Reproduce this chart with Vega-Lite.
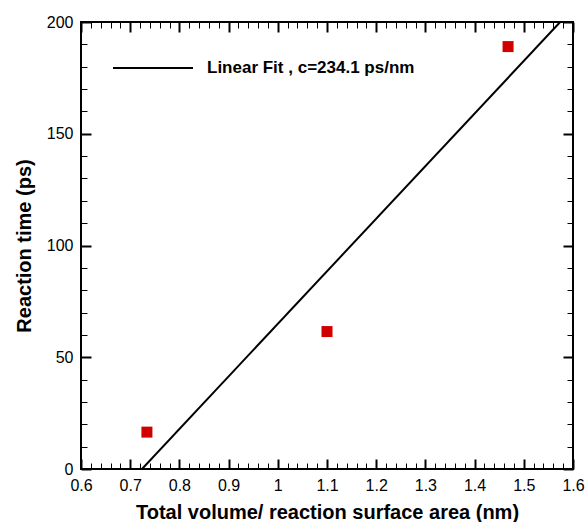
{
  "$schema": "https://vega.github.io/schema/vega-lite/v6.json",
  "width": 492,
  "height": 447,
  "autosize": {"type": "none"},
  "padding": {"left": 81, "top": 22, "right": 13, "bottom": 53},
  "config": {
    "view": {"stroke": "black", "strokeWidth": 2},
    "font": "Liberation Sans",
    "axis": {
      "grid": false,
      "domain": false,
      "tickColor": "black",
      "labelColor": "black",
      "labelFont": "Liberation Sans",
      "labelFontSize": 16,
      "titleFont": "Liberation Sans",
      "titleFontSize": 20,
      "titleFontWeight": "bold",
      "titleColor": "black"
    }
  },
  "layer": [
    {
      "data": {"values": [
        {"x": 0.734, "y": 16.5},
        {"x": 1.1, "y": 61.5},
        {"x": 1.468, "y": 189}
      ]},
      "mark": {"type": "square", "size": 121, "color": "#d00000", "opacity": 1},
      "encoding": {
        "x": {
          "field": "x", "type": "quantitative",
          "scale": {"domain": [0.6, 1.6], "nice": false, "zero": false},
          "axis": {
            "orient": "bottom",
            "title": "Total volume/ reaction surface area (nm)",
            "values": [0.6,0.62,0.64,0.66,0.68,0.7,0.72,0.74,0.76,0.78,0.8,0.82,0.84,0.86,0.88,0.9,0.92,0.94,0.96,0.98,1,1.02,1.04,1.06,1.08,1.1,1.12,1.14,1.16,1.18,1.2,1.22,1.24,1.26,1.28,1.3,1.32,1.34,1.36,1.38,1.4,1.42,1.44,1.46,1.48,1.5,1.52,1.54,1.56,1.58,1.6],
            "labelExpr": "abs(datum.value*10-round(datum.value*10))<0.000001 ? format(datum.value, '~g') : ''",
            "tickSize": {"condition": {"test": "abs(datum.value*10-round(datum.value*10))<0.000001", "value": -10}, "value": -6},
            "tickWidth": {"condition": {"test": "abs(datum.value*10-round(datum.value*10))<0.000001", "value": 2}, "value": 1},
            "labelPadding": 18,
            "labelFlush": false,
            "labelOverlap": false,
            "titlePadding": 5
          }
        },
        "y": {
          "field": "y", "type": "quantitative",
          "scale": {"domain": [0, 200], "nice": false},
          "axis": {
            "orient": "left",
            "title": "Reaction time (ps)",
            "values": [0,10,20,30,40,50,60,70,80,90,100,110,120,130,140,150,160,170,180,190,200],
            "labelExpr": "datum.value % 50 == 0 ? format(datum.value, 'd') : ''",
            "tickSize": {"condition": {"test": "datum.value % 50 == 0", "value": -10}, "value": -6},
            "tickWidth": {"condition": {"test": "datum.value % 50 == 0", "value": 2}, "value": 1},
            "labelPadding": 18,
            "labelFlush": false,
            "labelOverlap": false,
            "titlePadding": 12
          }
        }
      }
    },
    {
      "data": {"values": [
        {"x": 0.724, "y": 0, "series": "Linear Fit , c=234.1 ps/nm"},
        {"x": 1.574, "y": 200, "series": "Linear Fit , c=234.1 ps/nm"}
      ]},
      "mark": {"type": "line", "strokeWidth": 2, "clip": true},
      "encoding": {
        "x": {
          "field": "x", "type": "quantitative",
          "scale": {"domain": [0.6, 1.6], "nice": false, "zero": false},
          "axis": {
            "orient": "top",
            "title": null,
            "labels": false,
            "values": [0.6,0.62,0.64,0.66,0.68,0.7,0.72,0.74,0.76,0.78,0.8,0.82,0.84,0.86,0.88,0.9,0.92,0.94,0.96,0.98,1,1.02,1.04,1.06,1.08,1.1,1.12,1.14,1.16,1.18,1.2,1.22,1.24,1.26,1.28,1.3,1.32,1.34,1.36,1.38,1.4,1.42,1.44,1.46,1.48,1.5,1.52,1.54,1.56,1.58,1.6],
            "tickSize": {"condition": {"test": "abs(datum.value*10-round(datum.value*10))<0.000001", "value": -10}, "value": -6},
            "tickWidth": {"condition": {"test": "abs(datum.value*10-round(datum.value*10))<0.000001", "value": 2}, "value": 1}
          }
        },
        "y": {
          "field": "y", "type": "quantitative",
          "scale": {"domain": [0, 200], "nice": false},
          "axis": {
            "orient": "right",
            "title": null,
            "labels": false,
            "values": [0,10,20,30,40,50,60,70,80,90,100,110,120,130,140,150,160,170,180,190,200],
            "tickSize": {"condition": {"test": "datum.value % 50 == 0", "value": -10}, "value": -6},
            "tickWidth": {"condition": {"test": "datum.value % 50 == 0", "value": 2}, "value": 1}
          }
        },
        "color": {
          "field": "series", "type": "nominal",
          "scale": {"range": ["black"]},
          "legend": {
            "orient": "none",
            "legendX": 31,
            "legendY": 5,
            "title": null,
            "symbolType": "stroke",
            "symbolSize": 6400,
            "symbolStrokeWidth": 2,
            "labelFont": "Liberation Sans",
            "labelFontSize": 17,
            "labelFontWeight": "bold",
            "labelColor": "black",
            "labelOffset": 13,
            "labelLimit": 400,
            "padding": 0
          }
        }
      }
    }
  ],
  "resolve": {"axis": {"x": "independent", "y": "independent"}}
}
